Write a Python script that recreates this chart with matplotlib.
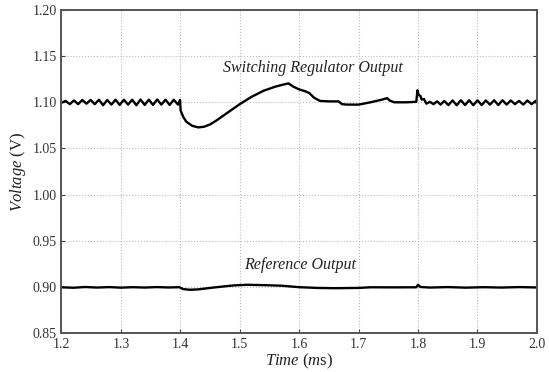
import matplotlib
matplotlib.use("Agg")
import matplotlib.pyplot as plt

plt.rcParams["font.family"] = ["Liberation Serif", "DejaVu Serif"]
plt.rcParams["mathtext.fontset"] = "custom"
plt.rcParams["mathtext.rm"] = "Liberation Serif"
plt.rcParams["mathtext.it"] = "Liberation Serif:italic"

# Switching regulator output: time (ms) and voltage (V)
sw_t = [1.200, 1.207, 1.214, 1.221, 1.228, 1.235, 1.242, 1.249, 1.256, 1.263,
        1.270, 1.277, 1.284, 1.291, 1.298, 1.305, 1.312, 1.319, 1.326, 1.333,
        1.340, 1.347, 1.354, 1.361, 1.368, 1.375, 1.382, 1.389, 1.396, 1.3995,
        1.4005, 1.405, 1.410, 1.420, 1.430, 1.440, 1.450, 1.460, 1.480, 1.500,
        1.520, 1.540, 1.560, 1.575, 1.582, 1.590, 1.600, 1.610, 1.617, 1.625,
        1.635, 1.650, 1.666, 1.672, 1.680, 1.700, 1.720, 1.740, 1.748, 1.752,
        1.760, 1.780, 1.797, 1.799, 1.801, 1.804, 1.806, 1.810, 1.814, 1.820,
        1.826, 1.832, 1.838, 1.844, 1.851, 1.858, 1.865, 1.872, 1.879, 1.886,
        1.893, 1.900, 1.907, 1.914, 1.921, 1.928, 1.935, 1.942, 1.949, 1.956,
        1.963, 1.970, 1.977, 1.984, 1.991, 1.998, 2.000]
sw_v = [1.0995, 1.1015, 1.0980, 1.1020, 1.0980, 1.1025, 1.0985, 1.1025, 1.0980, 1.1028,
        1.0968, 1.1025, 1.0975, 1.1028, 1.0972, 1.1028, 1.0975, 1.1028, 1.0968, 1.1030,
        1.0972, 1.1028, 1.0972, 1.1030, 1.0975, 1.1028, 1.0972, 1.1028, 1.0975, 1.1025,
        1.0910, 1.0840, 1.0790, 1.0745, 1.0728, 1.0735, 1.0760, 1.0800, 1.0890, 1.0980,
        1.1060, 1.1125, 1.1170, 1.1195, 1.1205, 1.1170, 1.1140, 1.1120, 1.1100, 1.1050,
        1.1015, 1.1010, 1.1010, 1.0980, 1.0975, 1.0975, 1.1000, 1.1030, 1.1045, 1.1020,
        1.1000, 1.1000, 1.1005, 1.1130, 1.1080, 1.1070, 1.1030, 1.1035, 1.0985, 1.1005,
        1.0980, 1.1010, 1.0975, 1.1015, 1.0970, 1.1020, 1.0968, 1.1022, 1.0970, 1.1022,
        1.0968, 1.1022, 1.0970, 1.1020, 1.0975, 1.1022, 1.0970, 1.1022, 1.0975, 1.1020,
        1.0980, 1.1015, 1.0975, 1.1020, 1.0980, 1.1015, 1.0985]

# Reference output
ref_t = [1.200, 1.220, 1.240, 1.260, 1.280, 1.300, 1.320, 1.340, 1.360, 1.380,
         1.398, 1.405, 1.416, 1.430, 1.450, 1.470, 1.490, 1.512, 1.540, 1.570,
         1.600, 1.630, 1.660, 1.700, 1.720, 1.760, 1.797, 1.800, 1.804, 1.820,
         1.850, 1.880, 1.910, 1.940, 1.970, 2.000]
ref_v = [0.8995, 0.8990, 0.8998, 0.8992, 0.8997, 0.8991, 0.8996, 0.8992, 0.8997, 0.8993,
         0.8996, 0.8975, 0.8968, 0.8972, 0.8988, 0.9002, 0.9015, 0.9022, 0.9018, 0.9012,
         0.8996, 0.8988, 0.8985, 0.8988, 0.8995, 0.8994, 0.8995, 0.9022, 0.8998, 0.8992,
         0.8997, 0.8991, 0.8996, 0.8992, 0.8997, 0.8993]

x_ticks = [1.2, 1.3, 1.4, 1.5, 1.6, 1.7, 1.8, 1.9, 2.0]
y_ticks = [0.85, 0.90, 0.95, 1.00, 1.05, 1.10, 1.15, 1.20]

fig = plt.figure(figsize=(5.49, 3.72), dpi=100)
ax = fig.add_axes([0.112, 0.105, 0.866, 0.868])

ax.plot(sw_t, sw_v, color="black", lw=1.7)
ax.plot(ref_t, ref_v, color="black", lw=1.7)

ax.set_xlim(1.2, 2.0)
ax.set_ylim(0.85, 1.20)
ax.set_xticks(x_ticks)
ax.set_yticks(y_ticks)
ax.set_xticklabels([f"{v:.1f}" for v in x_ticks])
ax.set_yticklabels([f"{v:.2f}" for v in y_ticks])
ax.tick_params(direction="in", length=3, labelsize=10, colors="#444444",
               labelcolor="#333333", top=False, right=True)
ax.grid(True, color="#bbbbbb", linestyle=":", linewidth=0.8)
for s in ax.spines.values():
    s.set_color("#555555")
    s.set_linewidth(1.4)

ax.set_xlabel("$\\it{Time}$ ($\\it{m}$s)", fontsize=12, color="#222222", labelpad=1)
ax.set_ylabel("$\\it{Voltage}$ (V)", fontsize=12, color="#222222", labelpad=3)

ax.text(1.623, 1.137, "Switching Regulator Output", style="italic",
        fontsize=11.5, ha="center", va="center", color="#222222")
ax.text(1.601, 0.9237, "Reference Output", style="italic",
        fontsize=11.5, ha="center", va="center", color="#222222")

fig.savefig("out.png", dpi=100)
